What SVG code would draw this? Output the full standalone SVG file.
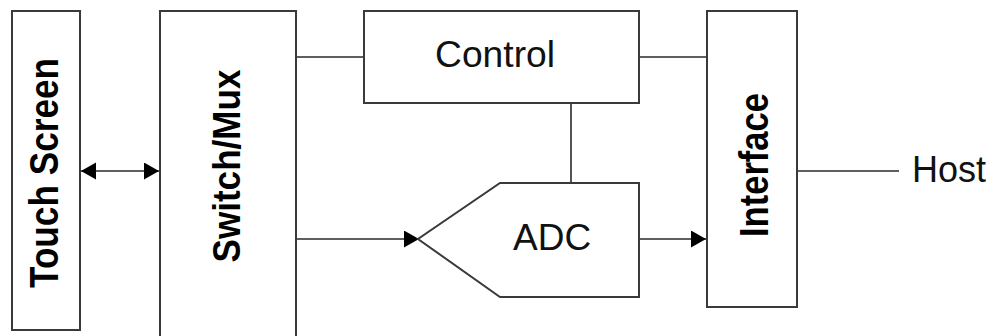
<svg xmlns="http://www.w3.org/2000/svg" width="992" height="336" viewBox="0 0 992 336">
<style>
.box{fill:#fff;stroke:#3a3a3a;stroke-width:2}
.ln{fill:none;stroke:#2a2a2a;stroke-width:1.6}
.lbl{font-family:"Liberation Sans",Arial,sans-serif;fill:#111}
.rot{font-family:"Liberation Sans",Arial,sans-serif;font-weight:bold;fill:#000}
</style>
<defs>
<marker id="ah" markerUnits="userSpaceOnUse" markerWidth="16" markerHeight="18" refX="15" refY="8.5" orient="auto-start-reverse" viewBox="0 0 16 18">
<path d="M0,0 L15,8.5 L0,17 Z" fill="#000"/>
</marker>
</defs>
<rect width="992" height="336" fill="#fff"/>
<g id="connectors">
<line class="ln" x1="81" y1="171" x2="159" y2="171" marker-start="url(#ah)" marker-end="url(#ah)"/>
<line class="ln" x1="296" y1="57" x2="364" y2="57"/>
<line class="ln" x1="639" y1="57" x2="707" y2="57"/>
<line class="ln" x1="571" y1="103" x2="571" y2="183"/>
<line class="ln" x1="296" y1="239" x2="419" y2="239" marker-end="url(#ah)"/>
<line class="ln" x1="639" y1="239" x2="706" y2="239" marker-end="url(#ah)"/>
<line class="ln" x1="797" y1="171" x2="899" y2="171"/>
</g>
<g id="touch-screen">
<rect class="box" x="12" y="11" width="68" height="319"/>
<text class="rot" transform="translate(58,173) rotate(-90)" font-size="41" text-anchor="middle" textLength="230" lengthAdjust="spacingAndGlyphs">Touch Screen</text>
</g>
<g id="switch-mux">
<rect class="box" x="160" y="11" width="136" height="340"/>
<text class="rot" transform="translate(240,166) rotate(-90)" font-size="39" text-anchor="middle" textLength="193" lengthAdjust="spacingAndGlyphs">Switch/Mux</text>
</g>
<g id="control">
<rect class="box" x="364" y="11" width="275" height="92"/>
<text class="lbl" x="435" y="67" font-size="37" textLength="120" lengthAdjust="spacingAndGlyphs">Control</text>
</g>
<g id="adc">
<path class="box" d="M500,183 L639,183 L639,297 L500,297 L418,239 Z" stroke-width="1.8"/>
<text class="lbl" x="513" y="250" font-size="37">ADC</text>
</g>
<g id="interface">
<rect class="box" x="707" y="11" width="90" height="296"/>
<text class="rot" transform="translate(768,165) rotate(-90)" font-size="40" text-anchor="middle" textLength="144" lengthAdjust="spacingAndGlyphs">Interface</text>
</g>
<g id="host">
<text class="lbl" x="912" y="182" font-size="36">Host</text>
</g>
</svg>
